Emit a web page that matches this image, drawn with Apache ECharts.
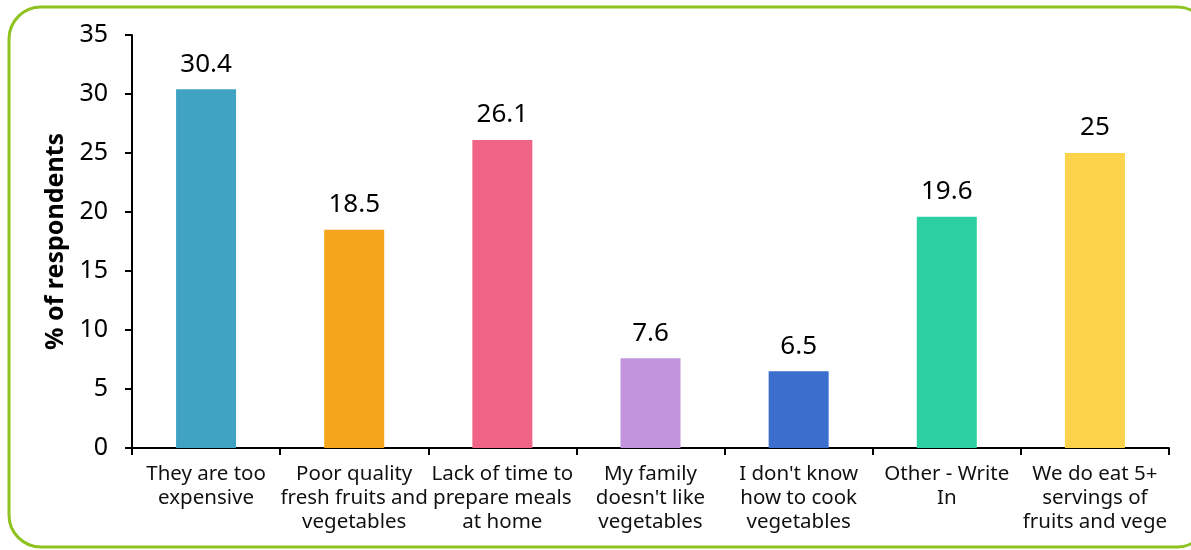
<!DOCTYPE html>
<html><head><meta charset="utf-8">
<script src="https://cdn.jsdelivr.net/npm/echarts@6/dist/echarts.min.js"></script>
<style>html,body{margin:0;padding:0;background:#fff}#c{width:1191px;height:550px}</style>
</head><body><div id="c"></div>
<script>
const categories = ["They are too\nexpensive","Poor quality\nfresh fruits and\nvegetables","Lack of time to\nprepare meals\nat home","My family\ndoesn't like\nvegetables","I don't know\nhow to cook\nvegetables","Other - Write\nIn","We do eat 5+\nservings of\nfruits and vege"];
const values = [30.4, 18.5, 26.1, 7.6, 6.5, 19.6, 25];
const colors = ["#40A3C3","#F5A51C","#F06488","#C194DB","#3C6ECD","#2BCFA2","#FCD34B"];
const yTicks = [0,5,10,15,20,25,30,35];
const font = "'Noto Sans', sans-serif";
const chart = echarts.init(document.getElementById('c'));
chart.setOption({
  animation:false,
  graphic:[{type:'rect',shape:{x:9,y:7,width:1200,height:540,r:32},style:{fill:'none',stroke:'#8DC21F',lineWidth:3},z:-1}],
  grid:{left:132,top:35,right:22,bottom:102},
  xAxis:{type:'category',data:categories,
    axisLine:{lineStyle:{color:'#000',width:2}},
    axisTick:{show:true,length:7,lineStyle:{color:'#000',width:2}},
    axisLabel:{color:'#111',fontSize:20.5,fontFamily:font,lineHeight:24,margin:14,interval:0}},
  yAxis:{type:'value',min:yTicks[0],max:yTicks[yTicks.length-1],interval:5,
    name:'% of respondents',nameLocation:'middle',nameGap:59,
    nameTextStyle:{fontSize:25,fontWeight:'bold',color:'#000',fontFamily:font},
    splitLine:{show:false},
    axisLine:{show:true,lineStyle:{color:'#000',width:2}},
    axisTick:{show:true,length:7,lineStyle:{color:'#000',width:2}},
    axisLabel:{color:'#000',fontSize:25,fontFamily:font,margin:24}},
  series:[{type:'bar',barWidth:60,
    data:values.map((v,i)=>({value:v,itemStyle:{color:colors[i]}})),
    label:{show:true,position:'top',distance:12,color:'#000',fontSize:26,fontFamily:font}}]
});
</script></body></html>
